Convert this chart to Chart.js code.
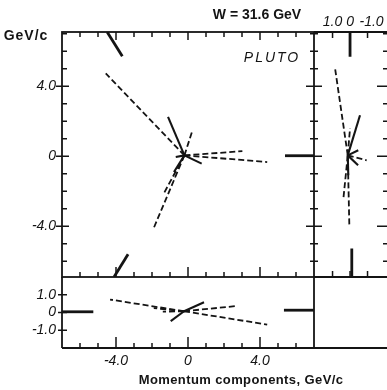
<!DOCTYPE html>
<html>
<head>
<meta charset="utf-8">
<script src="https://cdn.jsdelivr.net/npm/chart.js@4.4.1/dist/chart.umd.min.js"></script>
<style>
  html, body { margin: 0; padding: 0; background: #fff; overflow: hidden; width: 387px; height: 390px; }
  canvas { position: absolute; left: 0; top: 0; }
</style>
</head>
<body>
<canvas id="mainChart" width="400" height="390"></canvas>
<canvas id="sideChart" width="400" height="390"></canvas>
<canvas id="lowChart" width="400" height="390"></canvas>
<script>
// x-y projection (big panel)
const xyVertex = [-0.2, 0.05];
const xyDashed = [[-4.57, 4.73], [0.24, 1.45], [3.02, 0.29], [4.4, -0.33], [-1.33, -2.1], [-1.93, -4.17]];
const xySolid = [[-1.11, 2.25], [0.76, -0.42], [-0.78, -0.9], [-0.68, -0.04]];
const xyStubs = [[[-4.49, 7.1], [-3.65, 5.71]], [[-4.11, -6.9], [-3.33, -5.6]], [[5.39, 0.03], [7.0, 0.03]]];

// z-y projection (right strip)
const zyVertex = [0.13, 0.05];
const zyDashed = [[0.86, 5.05], [0.0, 1.6], [-0.95, -0.23], [0.38, -2.42], [0.04, -3.95]];
const zySolid = [[-0.57, 2.34], [-0.47, 0.34], [-0.46, -0.51], [0.1, -1.09]];
const zyStubs = [[[0.0, 7.1], [0.0, 5.69]], [[-0.1, -5.27], [-0.1, -6.9]]];

// x-z projection (bottom strip)
const xzVertex = [-0.22, 0.07];
const xzDashed = [[-4.33, 0.73], [-1.9, 0.25], [-1.4, 0.05], [2.65, 0.36], [4.4, -0.68]];
const xzSolid = [[0.89, 0.58], [-0.96, -0.49]];
const xzStubs = [[[-7.0, 0.04], [-5.26, 0.04]], [[5.33, 0.13], [7.0, 0.13]]];

// axis ranges and ticks
const xRange = [-7, 7];
const yRange = [-6.9, 7.1];
const zSideRange = [-2.17, 2.06];
const zLowRange = [-2, 2];
const xTicks = [-6, -5, -4, -3, -2, -1, 0, 1, 2, 3, 4, 5, 6];
const yTicks = [-6, -5, -4, -3, -2, -1, 0, 1, 2, 3, 4, 5, 6, 7];
const majorTicks = [-4, 0, 4];
const zTicks = [-1, 0, 1];
const pLabels = ['4.0', '0', '-4.0'];
const pLabelValues = [4, 0, -4];
const zLabels = ['1.0', '0', '-1.0'];
const zLabelValues = [1, 0, -1];

const INK = '#141414';
const NUM_FONT = 'italic 14px "Liberation Sans", Arial, sans-serif';

function trackSets(vertex, ends, dashed) {
    return ends.map(e => ({
        data: [{ x: vertex[0], y: vertex[1] }, { x: e[0], y: e[1] }],
        showLine: true,
        borderColor: INK,
        borderWidth: dashed ? 1.8 : 2.1,
        borderDash: dashed ? [6, 3] : [],
        pointRadius: 0
    }));
}

function stubSets(stubs) {
    return stubs.map(s => ({
        data: s.map(p => ({ x: p[0], y: p[1] })),
        showLine: true,
        borderColor: INK,
        borderWidth: 2.8,
        pointRadius: 0
    }));
}

function line(ctx, x1, y1, x2, y2) {
    ctx.beginPath();
    ctx.moveTo(x1, y1);
    ctx.lineTo(x2, y2);
    ctx.stroke();
}

function text(ctx, str, x, y, font, align, spacing) {
    ctx.font = font;
    ctx.textAlign = align || 'center';
    ctx.textBaseline = 'middle';
    ctx.letterSpacing = (spacing || 0) + 'px';
    ctx.fillText(str, x, y);
    ctx.letterSpacing = '0px';
}

function makeChart(id, pad, xOpts, yOpts, datasets, drawFn) {
    return new Chart(document.getElementById(id), {
        type: 'scatter',
        data: { datasets: datasets },
        options: {
            responsive: false,
            animation: false,
            events: [],
            layout: { padding: pad },
            plugins: { legend: { display: false }, tooltip: { enabled: false } },
            scales: {
                x: Object.assign({ type: 'linear', display: false }, xOpts),
                y: Object.assign({ type: 'linear', display: false }, yOpts)
            }
        },
        plugins: [{ id: id + 'Frame', afterDraw: drawFn }]
    });
}

// big panel
makeChart('mainChart', { left: 62, top: 32, right: 86, bottom: 113 },
    { min: xRange[0], max: xRange[1] }, { min: yRange[0], max: yRange[1] },
    [...trackSets(xyVertex, xyDashed, true), ...trackSets(xyVertex, xySolid, false), ...stubSets(xyStubs)],
    chart => {
        const { ctx, chartArea: a, scales: { x, y } } = chart;
        ctx.save();
        ctx.strokeStyle = INK;
        ctx.fillStyle = INK;
        ctx.lineWidth = 1.8;
        ctx.strokeRect(a.left, a.top, a.right - a.left, a.bottom - a.top);
        ctx.lineWidth = 1.5;
        yTicks.forEach(v => {
            const py = y.getPixelForValue(v);
            const major = majorTicks.includes(v);
            line(ctx, a.left - (major ? 6 : 0), py, a.left + (major ? 7 : 5), py);
            line(ctx, a.right - (major ? 8 : 4), py, a.right + (major ? 8 : 4), py);
        });
        xTicks.forEach(v => {
            const px = x.getPixelForValue(v);
            const major = majorTicks.includes(v);
            line(ctx, px, a.top, px, a.top + (major ? 8 : 5));
            line(ctx, px, a.bottom, px, a.bottom - (major ? 10 : 5));
        });
        pLabels.forEach((t, i) => text(ctx, t, a.left - 6, y.getPixelForValue(pLabelValues[i]), NUM_FONT, 'right'));

        text(ctx, 'GeV/c', 26, 36, 'bold 14px "Liberation Sans", Arial, sans-serif', 'center', 1);
        text(ctx, 'W = 31.6 GeV', 257, 15, 'bold 14px "Liberation Sans", Arial, sans-serif', 'center');
        text(ctx, 'PLUTO', 272, 58, 'italic 14px "Liberation Sans", Arial, sans-serif', 'center', 2);
        text(ctx, 'Momentum components, GeV/c', 241, 380, 'bold 13px "Liberation Sans", Arial, sans-serif', 'center', 0.4);
        ctx.restore();
    });

// right strip (z horizontal, reversed)
makeChart('sideChart', { left: 314, top: 32, right: 12, bottom: 113 },
    { min: zSideRange[0], max: zSideRange[1], reverse: true }, { min: yRange[0], max: yRange[1] },
    [...trackSets(zyVertex, zyDashed, true), ...trackSets(zyVertex, zySolid, false), ...stubSets(zyStubs)],
    chart => {
        const { ctx, chartArea: a, scales: { x, y } } = chart;
        ctx.save();
        ctx.strokeStyle = INK;
        ctx.fillStyle = INK;
        ctx.lineWidth = 1.8;
        line(ctx, a.left, a.top, a.right, a.top);
        line(ctx, a.left, a.bottom, a.right, a.bottom);
        line(ctx, a.right, a.top, a.right, a.bottom);
        ctx.lineWidth = 1.5;
        zTicks.forEach(v => {
            const px = x.getPixelForValue(v);
            line(ctx, px, a.top, px, a.top + 6);
            line(ctx, px, a.bottom, px, a.bottom - 6);
        });
        yTicks.forEach(v => {
            const py = y.getPixelForValue(v);
            line(ctx, a.right, py, a.right - (majorTicks.includes(v) ? 11 : 5), py);
        });
        zLabels.forEach((t, i) => text(ctx, t, x.getPixelForValue(zLabelValues[i]) + (i === 2 ? 4 : 0), 22, NUM_FONT, 'center'));
        ctx.restore();
    });

// bottom strip (z vertical)
makeChart('lowChart', { left: 62, top: 277, right: 86, bottom: 42 },
    { min: xRange[0], max: xRange[1] }, { min: zLowRange[0], max: zLowRange[1] },
    [...trackSets(xzVertex, xzDashed, true), ...trackSets(xzVertex, xzSolid, false), ...stubSets(xzStubs)],
    chart => {
        const { ctx, chartArea: a, scales: { x, y } } = chart;
        ctx.save();
        ctx.strokeStyle = INK;
        ctx.fillStyle = INK;
        ctx.lineWidth = 1.8;
        line(ctx, a.left, a.top, a.left, a.bottom);
        line(ctx, a.left, a.bottom, chart.width, a.bottom);
        line(ctx, a.right, a.top, a.right, a.bottom);
        ctx.lineWidth = 1.5;
        zTicks.forEach(v => {
            const py = y.getPixelForValue(v);
            line(ctx, a.left - 4, py, a.left + 5, py);
        });
        xTicks.forEach(v => {
            const px = x.getPixelForValue(v);
            line(ctx, px, a.bottom, px, a.bottom - (majorTicks.includes(v) ? 11 : 5));
        });
        zLabels.forEach((t, i) => text(ctx, t, a.left - 6, y.getPixelForValue(zLabelValues[i]), NUM_FONT, 'right'));
        pLabels.forEach((t, i) => text(ctx, t, x.getPixelForValue(pLabelValues[i]), 361, NUM_FONT, 'center'));
        ctx.restore();
    });
</script>
</body>
</html>
